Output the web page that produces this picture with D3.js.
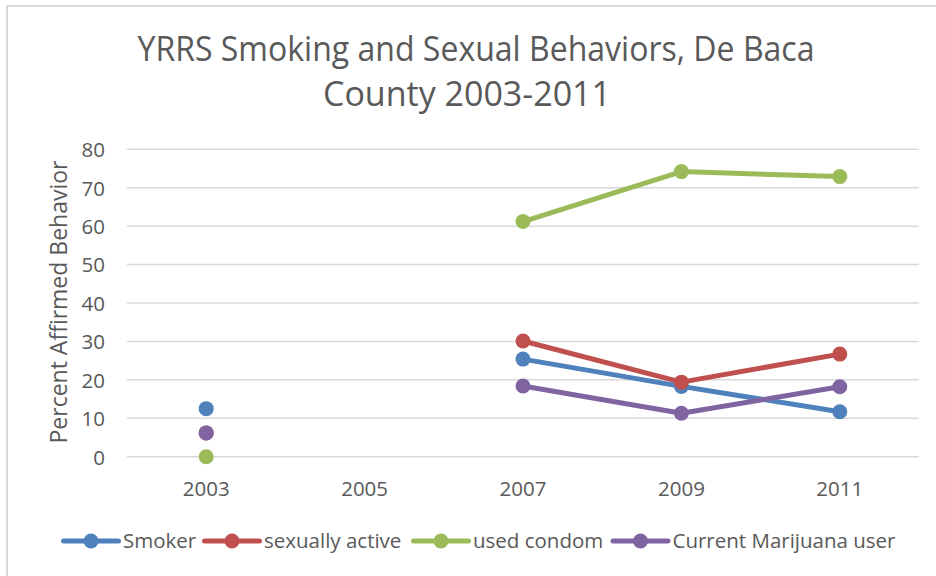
<!DOCTYPE html>
<html>
<head>
<meta charset="utf-8">
<script src="https://cdn.jsdelivr.net/npm/d3@7"></script>
<style>
  body { margin: 0; background: #fff; }
  svg text { font-family: "Open Sans", "Noto Sans", sans-serif; fill: #595959; }
</style>
</head>
<body>
<svg id="chart" width="936" height="576"></svg>
<script>
// data
var years = ['2003', '2005', '2007', '2009', '2011'];
var smoker = [12.5, null, 25.4, 18.3, 11.7];
var sexuallyActive = [6.2, null, 30.1, 19.4, 26.7];
var usedCondom = [0, null, 61.2, 74.2, 72.9];
var marijuana = [6.2, null, 18.4, 11.3, 18.2];
var yTicks = [0, 10, 20, 30, 40, 50, 60, 70, 80];

var series = [
  { name: 'Smoker', values: smoker, color: '#4F81BD' },
  { name: 'sexually active', values: sexuallyActive, color: '#C0504D' },
  { name: 'used condom', values: usedCondom, color: '#9BBB59' },
  { name: 'Current Marijuana user', values: marijuana, color: '#8064A2' }
];

var svg = d3.select('#chart');
var plotLeft = 127, plotRight = 919, plotTop = 149.3, plotBottom = 456.7;

// frame (only top/left edges are inside the picture)
svg.append('path')
  .attr('d', 'M7,576 V6 H936')
  .attr('fill', 'none')
  .attr('stroke', '#d9d9d9')
  .attr('stroke-width', 2);

// squeeze text a bit to get closer to the narrow Calibri look
function fitText(sel, w) {
  sel.each(function(){
    var len = this.getComputedTextLength();
    if (len > w) d3.select(this).attr('textLength', w).attr('lengthAdjust', 'spacingAndGlyphs');
  });
}
svg.append('text').attr('x', 476).attr('y', 61).attr('text-anchor', 'middle')
  .style('font-size', '34px').text('YRRS Smoking and Sexual Behaviors, De Baca')
  .call(fitText, 677);
svg.append('text').attr('x', 467).attr('y', 106).attr('text-anchor', 'middle')
  .style('font-size', '34px').text('County 2003-2011')
  .call(fitText, 296);

var x = d3.scaleBand().domain(years).range([plotLeft, plotRight]);
var y = d3.scaleLinear().domain([0, 80]).range([plotBottom, plotTop]);

// gridlines
svg.append('g').selectAll('line')
  .data(yTicks).enter().append('line')
  .attr('x1', plotLeft).attr('x2', plotRight)
  .attr('y1', function(d){ return y(d); })
  .attr('y2', function(d){ return y(d); })
  .attr('stroke', '#d9d9d9')
  .attr('stroke-width', 1.5);

// y axis labels
var yAxis = svg.append('g')
  .attr('transform', 'translate(' + (plotLeft - 22) + ',0)')
  .call(d3.axisLeft(y).tickValues(yTicks).tickSize(0).tickPadding(0));
yAxis.select('.domain').remove();
yAxis.selectAll('text').style('font-size', '20.5px').attr('dy', '0.36em');

// x axis labels
var xAxis = svg.append('g')
  .attr('transform', 'translate(0,' + (plotBottom + 20) + ')')
  .call(d3.axisBottom(x).tickSize(0).tickPadding(0));
xAxis.select('.domain').remove();
xAxis.selectAll('text').style('font-size', '20.5px').attr('dy', '0.95em');

// y axis title
svg.append('text')
  .attr('transform', 'translate(67,302) rotate(-90)')
  .attr('text-anchor', 'middle')
  .style('font-size', '23px')
  .text('Percent Affirmed Behavior')
  .call(fitText, 285);

var cx = function(i){ return x(years[i]) + x.bandwidth() / 2; };
var line = d3.line()
  .defined(function(d){ return d != null; })
  .x(function(d, i){ return cx(i); })
  .y(function(d){ return y(d); });

series.forEach(function(s){
  var g = svg.append('g');
  g.append('path')
    .attr('d', line(s.values))
    .attr('fill', 'none')
    .attr('stroke', s.color)
    .attr('stroke-width', 5)
    .attr('stroke-linejoin', 'round')
    .attr('stroke-linecap', 'round');
  g.selectAll('circle')
    .data(s.values.map(function(v, i){ return { v: v, i: i }; }).filter(function(d){ return d.v != null; }))
    .enter().append('circle')
    .attr('cx', function(d){ return cx(d.i); })
    .attr('cy', function(d){ return y(d.v); })
    .attr('r', 7.5)
    .attr('fill', s.color);
});

// legend
var legendX = [63.5, 204.5, 413.5, 613];
var legendY = 541;
series.forEach(function(s, i){
  var g = svg.append('g').attr('transform', 'translate(' + legendX[i] + ',' + legendY + ')');
  g.append('line').attr('x1', 0).attr('x2', 55)
    .attr('stroke', s.color).attr('stroke-width', 5).attr('stroke-linecap', 'round');
  g.append('circle').attr('cx', 27.5).attr('r', 7.5).attr('fill', s.color);
  g.append('text').attr('x', 59.5).attr('dy', '0.35em')
    .style('font-size', '20.5px').text(s.name);
});
</script>
</body>
</html>
